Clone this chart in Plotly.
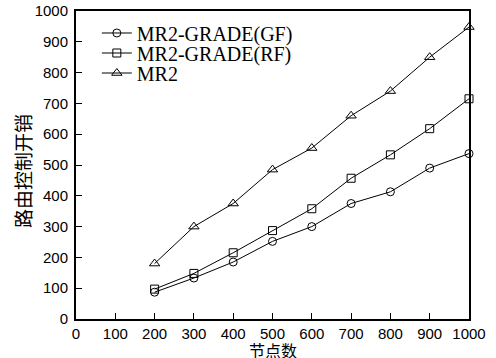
import plotly.graph_objects as go

nodes = [200, 300, 400, 500, 600, 700, 800, 900, 1000]
gf = [87, 133, 185, 252, 300, 375, 413, 490, 537]
rf = [97, 148, 215, 287, 358, 457, 533, 618, 715]
mr2 = [180, 300, 375, 485, 555, 660, 740, 850, 948]
names = ["MR2-GRADE(GF)", "MR2-GRADE(RF)", "MR2"]
symbols = ["circle-open", "square-open", "triangle-up-open"]
sizes = [8, 8, 9]
xticks = [0, 100, 200, 300, 400, 500, 600, 700, 800, 900, 1000]
yticks = [0, 100, 200, 300, 400, 500, 600, 700, 800, 900, 1000]
x_title = "节点数"
y_title = "路由控制开销"

legend_ids = ["legend", "legend2", "legend3"]
legend_y = [0.9286, 0.8636, 0.7987]

fig = go.Figure()
for name, ys, sym, sz, lg in zip(names, [gf, rf, mr2], symbols, sizes, legend_ids):
    fig.add_trace(go.Scatter(
        x=nodes, y=ys, mode="lines+markers", name=name, legend=lg,
        line=dict(color="black", width=1),
        marker=dict(symbol=sym, size=sz, color="black", line=dict(width=1, color="black")),
        cliponaxis=False,
    ))

legend_font = dict(family="Liberation Serif, Times New Roman", size=20, color="black")
legends = {}
for lg, ly in zip(legend_ids, legend_y):
    legends[lg] = dict(x=0.053, y=ly, xanchor="left", yanchor="middle",
                       font=legend_font, bgcolor="rgba(0,0,0,0)", itemwidth=30,
                       borderwidth=0)

axis_common = dict(
    showline=True, linecolor="black", linewidth=2, mirror=True,
    ticks="inside", ticklen=6, tickcolor="black", tickwidth=1,
    showgrid=False, zeroline=False, automargin=False,
    tickfont=dict(family="Liberation Sans, Arial", size=15, color="black"),
)
fig.update_layout(
    width=496, height=358,
    margin=dict(l=76, r=27, t=11, b=39),
    plot_bgcolor="white", paper_bgcolor="white",
    showlegend=True,
    xaxis=dict(range=[0, 1000], tickvals=xticks, **axis_common),
    yaxis=dict(range=[0, 1000], tickvals=yticks, ticklabelstandoff=3, **axis_common),
    annotations=[
        dict(text=x_title, xref="paper", yref="paper", x=0.5, y=0, xanchor="center",
             yanchor="bottom", yshift=-43, showarrow=False,
             font=dict(family="Liberation Sans, Noto Sans CJK SC", size=16, color="black")),
        dict(text=y_title, xref="paper", yref="paper", x=0, y=0.4805, xanchor="center",
             yanchor="middle", xshift=-54, textangle=-90, showarrow=False,
             font=dict(family="Noto Sans CJK SC", size=19, color="black")),
    ],
    **legends,
)
fig.write_html("out.html")
